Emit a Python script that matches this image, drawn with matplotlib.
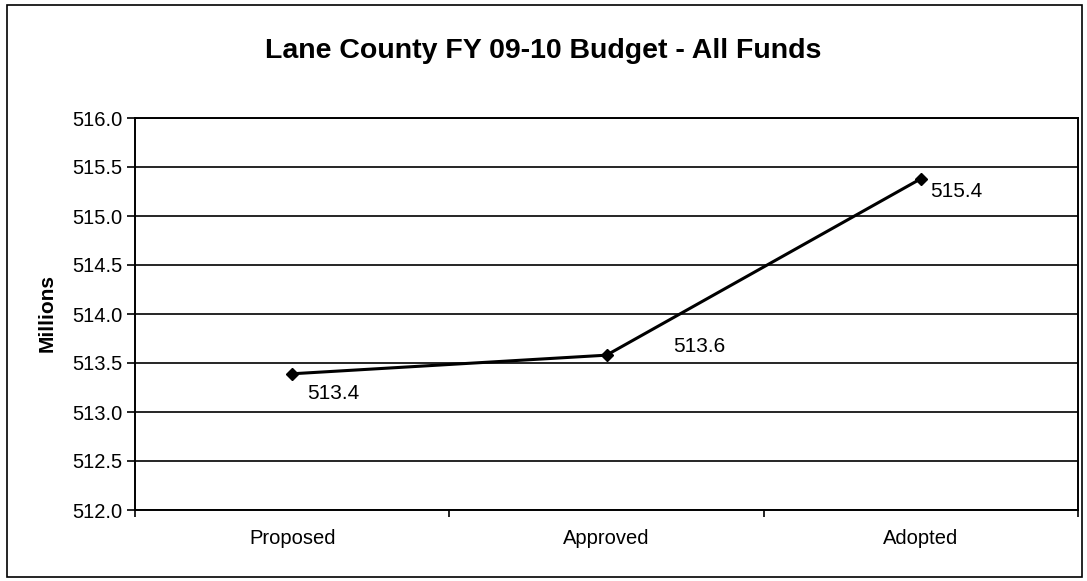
import matplotlib.pyplot as plt
from matplotlib.patches import Rectangle
from matplotlib.ticker import FixedLocator

plt.rcParams['font.family'] = ['Liberation Sans', 'DejaVu Sans']

# ---------- data -----------------------------
stages = ["Proposed", "Approved", "Adopted"]
budget = [513.39, 513.58, 515.38]  # millions
labels = ["513.4", "513.6", "515.4"]
label_offsets = [(41, -20), (93, 9), (35, -13)]  # pixels, right / up

W, H = 1087, 581
fig = plt.figure(figsize=(W / 100, H / 100), dpi=100)
ax = fig.add_axes([135 / W, 1 - 510 / H, (1078 - 135) / W, (510 - 118) / H])

x = list(range(len(stages)))
ax.plot(x, budget, color="black", lw=2.2, marker="D", ms=6.5, zorder=3)

for xi, yi, txt, off in zip(x, budget, labels, label_offsets):
    ax.annotate(txt, (xi, yi), xytext=(off[0] * 0.72, off[1] * 0.72),
                textcoords="offset points", ha="center", va="center",
                fontsize=15, color="black")

ax.set_xlim(-0.5, len(stages) - 0.5)
ax.set_ylim(512, 516)
ax.set_yticks([512 + 0.5 * i for i in range(9)])
ax.set_yticklabels([f"{512 + 0.5 * i:.1f}" for i in range(9)], fontsize=14.5)
ax.grid(axis="y", color="black", lw=1.2)
ax.set_axisbelow(True)

# category ticks between categories, labels at centres
ax.xaxis.set_major_locator(FixedLocator([-0.5, 0.5, 1.5, 2.5]))
ax.xaxis.set_major_formatter(plt.NullFormatter())
ax.xaxis.set_minor_locator(FixedLocator(x))
ax.set_xticklabels(stages, minor=True, fontsize=14.5)
ax.tick_params(axis="x", which="minor", length=0, pad=14)
ax.tick_params(axis="x", which="major", length=5, width=1.2, direction="out")
ax.tick_params(axis="y", length=6, width=1.2, direction="out", pad=3)

for s in ax.spines.values():
    s.set_color("black")
    s.set_linewidth(1.4)

ax.set_ylabel("Millions", fontsize=15, fontweight="bold")
ax.yaxis.set_label_coords((57 - 135) / (1078 - 135), (510 - 313) / (510 - 118))

fig.text(0.5, 1 - 51 / H, "Lane County FY 09-10 Budget - All Funds",
         ha="center", va="center", fontsize=20.5, fontweight="bold")

fig.patches.append(Rectangle((7 / W, 1 - 577 / H), (1082 - 7) / W, (577 - 5) / H,
                             transform=fig.transFigure, fill=False,
                             edgecolor="black", lw=1.2))

fig.savefig("out.png", dpi=100)
